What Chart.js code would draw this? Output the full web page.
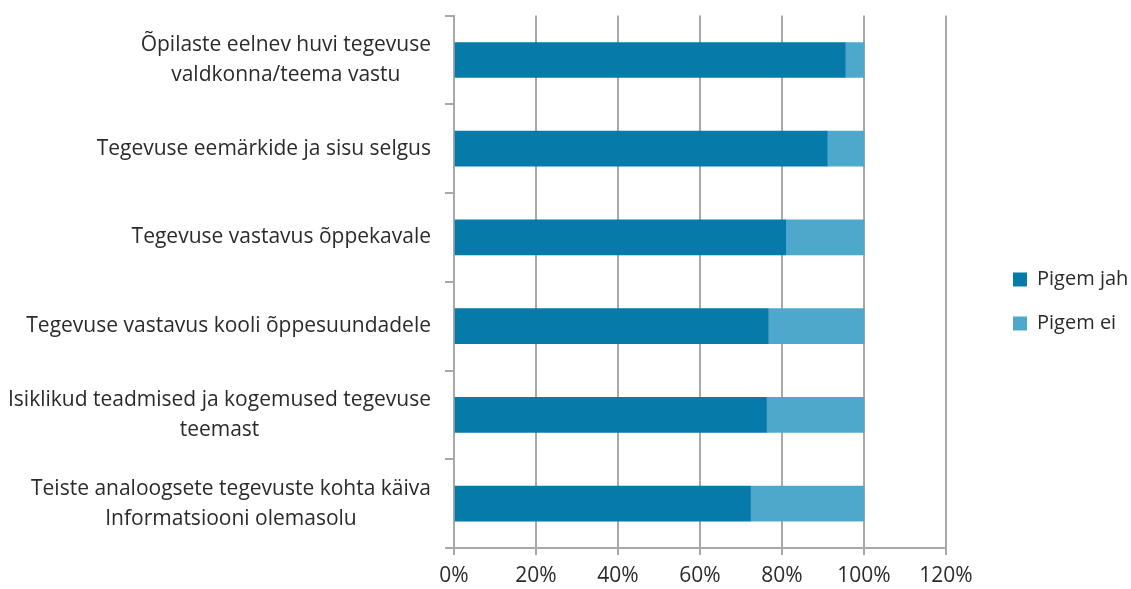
<!DOCTYPE html>
<html>
<head>
<meta charset="utf-8">
<script src="https://cdn.jsdelivr.net/npm/chart.js@4/dist/chart.umd.min.js"></script>
<style>
  html, body { margin: 0; padding: 0; background: #fff; }
</style>
</head>
<body>
<canvas id="chart" width="1131" height="589"></canvas>
<script>
// categories, top to bottom
const categories = [
  ["Õpilaste eelnev huvi tegevuse", "valdkonna/teema vastu"],
  ["Tegevuse eemärkide ja sisu selgus"],
  ["Tegevuse vastavus õppekavale"],
  ["Tegevuse vastavus kooli õppesuundadele"],
  ["Isiklikud teadmised ja kogemused tegevuse", "teemast"],
  ["Teiste analoogsete tegevuste kohta käiva", "Informatsiooni olemasolu"]
];

// percentages
const pigemJah = [95.4, 91.0, 80.9, 76.6, 76.2, 72.3];
const pigemEi = [4.6, 9.0, 19.1, 23.4, 23.8, 27.7];

const seriesNames = ["Pigem jah", "Pigem ei"];
const xTicks = [0, 20, 40, 60, 80, 100, 120];

const fontFamily = "'Open Sans', sans-serif";
const fontSize = 21;
const textColor = "#2b2b2b";
const gridColor = "#a8a8a8";

// y labels: each block right-aligned, lines centred inside it
const yLabelPlugin = {
  id: "yLabels",
  afterDraw(chart) {
    const ctx = chart.ctx;
    const y = chart.scales.y;
    const right = 431;
    const lineH = 30;
    ctx.save();
    ctx.font = fontSize + "px " + fontFamily;
    ctx.fillStyle = textColor;
    ctx.textAlign = "center";
    ctx.textBaseline = "middle";
    categories.forEach((lines, i) => {
      const w = Math.max(...lines.map((l) => ctx.measureText(l).width));
      const cx = right - w / 2;
      const cy = y.getPixelForValue(i);
      const top = cy - ((lines.length - 1) * lineH) / 2;
      lines.forEach((l, j) => ctx.fillText(l, cx, top + j * lineH));
    });
    ctx.restore();
  }
};

// fixed legend width so the legend sits where the original has it
const legendW = 142;
const legendWidthPlugin = {
  id: "legendWidth",
  beforeLayout(chart) {
    const lg = chart.legend;
    if (lg && !lg._fixed) {
      const fit = lg.fit.bind(lg);
      lg.fit = function () { fit(); this.width = legendW; };
      lg._fixed = true;
    }
  }
};

new Chart(document.getElementById("chart"), {
  type: "bar",
  data: {
    labels: categories.map((c) => c.join(" ")),
    datasets: [
      {
        label: seriesNames[0],
        data: pigemJah,
        backgroundColor: "#067aa9",
        barThickness: 35
      },
      {
        label: seriesNames[1],
        data: pigemEi,
        backgroundColor: "#4ea8cc",
        barThickness: 35
      }
    ]
  },
  options: {
    indexAxis: "y",
    responsive: false,
    animation: false,
    layout: { padding: { top: 14, right: 0, left: 0, bottom: 0 } },
    plugins: {
      tooltip: { enabled: false },
      legend: {
        position: "right",
        align: "center",
        labels: {
          font: { family: fontFamily, size: 20 },
          color: textColor,
          boxWidth: 14,
          boxHeight: 14,
          padding: 24
        }
      }
    },
    scales: {
      x: {
        stacked: true,
        min: 0,
        max: 120,
        afterBuildTicks: (s) => { s.ticks = xTicks.map((v) => ({ value: v })); },
        afterFit: (s) => { s.height = 41; },
        ticks: {
          callback: (v) => v + "%",
          font: { family: fontFamily, size: fontSize },
          color: textColor,
          padding: 8,
          maxRotation: 0
        },
        grid: {
          color: gridColor,
          lineWidth: 2,
          tickLength: 7
        },
        border: { color: gridColor, width: 2 }
      },
      y: {
        stacked: true,
        afterFit: (s) => { s.width = 454; },
        ticks: { color: "rgba(0,0,0,0)", font: { family: fontFamily, size: fontSize } },
        grid: {
          offset: true,
          drawOnChartArea: false,
          color: gridColor,
          lineWidth: 2,
          tickLength: 9
        },
        border: { color: gridColor, width: 2 }
      },
      // empty spacer between plot and legend
      gap: {
        type: "linear",
        axis: "y",
        position: "right",
        min: 0,
        max: 1,
        afterFit: (s) => { s.width = 1131 - 946 - legendW; },
        ticks: { display: false },
        grid: { display: false },
        border: { display: false }
      }
    }
  },
  plugins: [yLabelPlugin, legendWidthPlugin]
});
</script>
</body>
</html>
